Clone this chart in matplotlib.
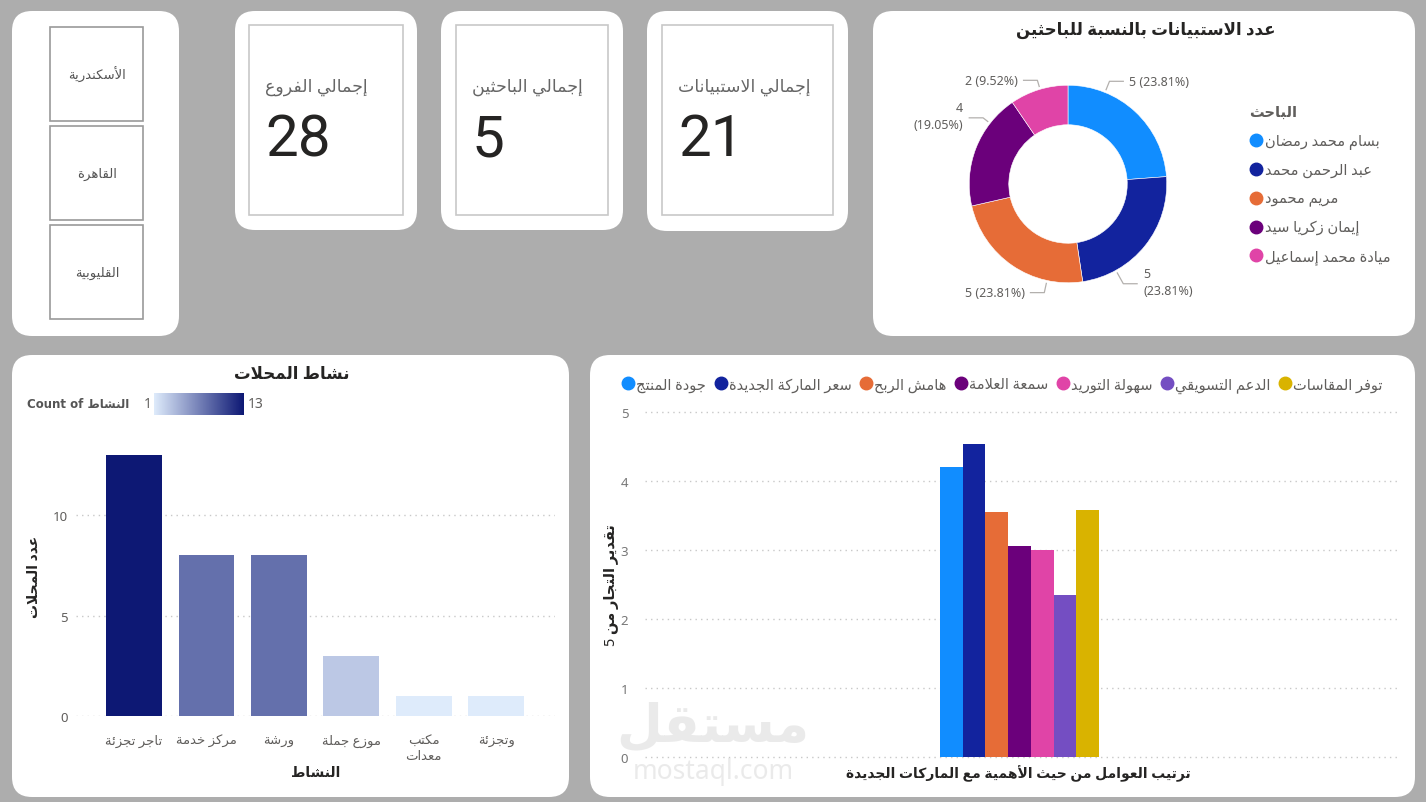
import matplotlib
matplotlib.use('Agg')
import matplotlib.pyplot as plt
from matplotlib.patches import FancyBboxPatch, Rectangle
from matplotlib.lines import Line2D
from matplotlib.colors import LinearSegmentedColormap, Normalize
import numpy as np

plt.rcParams['font.family'] = ['Noto Sans', 'DejaVu Sans']

# ---- data ----
regions = ['الأسكندرية', 'القاهرة', 'القليوبية']
card_titles = ['إجمالي الفروع', 'إجمالي الباحثين', 'إجمالي الاستبيانات']
card_values = [28, 5, 21]

researchers = ['بسام محمد رمضان', 'عبد الرحمن محمد', 'مريم محمود', 'إيمان زكريا سيد', 'ميادة محمد إسماعيل']
surveys = [5, 5, 5, 4, 2]
researcher_colors = ['#118DFF', '#12239E', '#E66C37', '#6B007B', '#E044A7']

activities = ['تاجر تجزئة', 'مركز خدمة', 'ورشة', 'موزع جملة', 'مكتب\nمعدات', 'وتجزئة']
shop_counts = [13, 8, 8, 3, 1, 1]

factors = ['جودة المنتج', 'سعر الماركة الجديدة', 'هامش الربح', 'سمعة العلامة',
           'سهولة التوريد', 'الدعم التسويقي', 'توفر المقاسات']
scores = [4.20, 4.54, 3.55, 3.06, 3.00, 2.35, 3.58]
factor_colors = ['#118DFF', '#12239E', '#E66C37', '#6B007B', '#E044A7', '#744EC2', '#D9B300']

# ---- simple arabic shaping (presentation forms) + rtl reversal ----
AR_FORMS = {
    '\u0621': (0xFE80, 1), '\u0622': (0xFE81, 2), '\u0623': (0xFE83, 2), '\u0624': (0xFE85, 2),
    '\u0625': (0xFE87, 2), '\u0626': (0xFE89, 4), '\u0627': (0xFE8D, 2), '\u0628': (0xFE8F, 4),
    '\u0629': (0xFE93, 2), '\u062A': (0xFE95, 4), '\u062B': (0xFE99, 4), '\u062C': (0xFE9D, 4),
    '\u062D': (0xFEA1, 4), '\u062E': (0xFEA5, 4), '\u062F': (0xFEA9, 2), '\u0630': (0xFEAB, 2),
    '\u0631': (0xFEAD, 2), '\u0632': (0xFEAF, 2), '\u0633': (0xFEB1, 4), '\u0634': (0xFEB5, 4),
    '\u0635': (0xFEB9, 4), '\u0636': (0xFEBD, 4), '\u0637': (0xFEC1, 4), '\u0638': (0xFEC5, 4),
    '\u0639': (0xFEC9, 4), '\u063A': (0xFECD, 4), '\u0641': (0xFED1, 4), '\u0642': (0xFED5, 4),
    '\u0643': (0xFED9, 4), '\u0644': (0xFEDD, 4), '\u0645': (0xFEE1, 4), '\u0646': (0xFEE5, 4),
    '\u0647': (0xFEE9, 4), '\u0648': (0xFEED, 2), '\u0649': (0xFEEF, 2), '\u064A': (0xFEF1, 4),
}
LAM_ALEF = {'\u0622': 0xFEF5, '\u0623': 0xFEF7, '\u0625': 0xFEF9, '\u0627': 0xFEFB}


def shape(text):
    out = []
    prev_joins = False
    i = 0
    while i < len(text):
        c = text[i]
        if c not in AR_FORMS:
            out.append(c)
            prev_joins = False
            i += 1
            continue
        if c == '\u0644' and i + 1 < len(text) and text[i + 1] in LAM_ALEF:
            out.append(chr(LAM_ALEF[text[i + 1]] + (1 if prev_joins else 0)))
            prev_joins = False
            i += 2
            continue
        base, nforms = AR_FORMS[c]
        nxt = text[i + 1] if i + 1 < len(text) else ''
        next_ok = nforms == 4 and nxt in AR_FORMS and AR_FORMS[nxt][1] > 1
        if nforms == 1:
            form = 0
        elif nforms == 2:
            form = 1 if prev_joins else 0
        else:
            if prev_joins and next_ok:
                form = 3
            elif prev_joins:
                form = 1
            elif next_ok:
                form = 2
            else:
                form = 0
        out.append(chr(base + form))
        prev_joins = nforms == 4
        i += 1
    return ''.join(out)


def ar(text):
    return '\n'.join(shape(line)[::-1] for line in text.split('\n'))


W, H = 1426, 803


def rect(x0, y0, x1, y1):
    return [x0 / W, 1 - y1 / H, (x1 - x0) / W, (y1 - y0) / H]


fig = plt.figure(figsize=(W / 100, H / 100), dpi=100)
fig.patch.set_facecolor('#ADADAD')

bg = fig.add_axes([0, 0, 1, 1])
bg.set_xlim(0, W)
bg.set_ylim(0, H)
bg.axis('off')
bg.set_zorder(-5)


def panel(x0, y0, x1, y1, r=20):
    bg.add_patch(FancyBboxPatch((x0, H - y1), x1 - x0, y1 - y0,
                                boxstyle=f'round,pad=0,rounding_size={r}',
                                facecolor='white', edgecolor='none'))


def box(x0, y0, x1, y1, ec):
    bg.add_patch(Rectangle((x0, H - y1), x1 - x0, y1 - y0, facecolor='white',
                           edgecolor=ec, linewidth=1.2))


# panels
panel(12, 12, 179, 337)
panel(235, 12, 417, 231)
panel(441, 12, 623, 231)
panel(647, 12, 848, 232)
panel(873, 12, 1415, 337)
panel(12, 356, 569, 798)
panel(590, 356, 1415, 798)

# slicer
for i, reg in enumerate(regions):
    y0 = 28 + i * 99
    box(50, y0, 143, y0 + 94, '#9A9A9A')
    bg.text(97, H - (y0 + 47), ar(reg), ha='center', va='center', fontsize=9.5, color='#555555')

# cards
card_boxes = [(249, 403), (456, 608), (662, 833)]
for (x0, x1), t, v in zip(card_boxes, card_titles, card_values):
    box(x0, 26, x1, 216, '#C8C8C8')
    bg.text(x0 + 16, H - 87, ar(t), ha='left', va='center', fontsize=12.5, color='#666666')
    bg.text(x0 + 16, H - 141, str(v), ha='left', va='center', fontsize=42,
            color='#252423', family=['Roboto'])

# ---- donut ----
dax = fig.add_axes(rect(910, 27, 1226, 343))
wedges, _ = dax.pie(surveys, colors=researcher_colors, startangle=90, counterclock=False,
                    radius=1.0, wedgeprops=dict(width=0.4, edgecolor='white', linewidth=0.4))
dax.set_xlim(-1.6, 1.6)
dax.set_ylim(-1.6, 1.6)
dax.set_aspect('equal')
dax.axis('off')
total = sum(surveys)
label_pos = [(0.62, 1.04, 'left', False), (0.76, -0.99, 'left', True), (-0.44, -1.10, 'right', False),
             (-1.06, 0.69, 'right', True), (-0.51, 1.05, 'right', False)]
for w, v, (tx, ty, ha, two_lines) in zip(wedges, surveys, label_pos):
    pct = v / total * 100
    txt = f'{v}\n({pct:.2f}%)' if two_lines else f'{v} ({pct:.2f}%)'
    dax.text(tx, ty, txt, ha=ha, va='center', fontsize=9, color='#605E5C', linespacing=1.45)
    sgn = 1 if ha == 'left' else -1
    hx1 = tx - sgn * 0.06
    hx0 = hx1 - sgn * 0.14
    ly = ty - 0.02 if two_lines else ty
    ang = np.degrees(np.arctan2(ly, hx0))
    lo, hi = w.theta1, w.theta2
    a = lo + ((ang - lo) % 360)
    if a > hi:
        a = hi - 5 if (a - hi) < (lo + 360 - a) else lo + 5
    ex, ey = 1.03 * np.cos(np.radians(a)), 1.03 * np.sin(np.radians(a))
    dax.plot([ex, hx0, hx1], [ey, ly, ly], color='#B3B0AD', lw=0.9)

fig.text(1146 / W, 1 - 30 / H, ar('عدد الاستبيانات بالنسبة للباحثين'), ha='center', va='center',
         fontsize=12, fontweight='bold', color='#252423')

handles = [Line2D([], [], marker='o', ls='', color=c, markersize=9) for c in researcher_colors]
leg = fig.legend(handles, [ar(r) for r in researchers], loc='upper left',
                 bbox_to_anchor=(1236 / W, 1 - 93 / H), frameon=False, title=ar('الباحث'),
                 title_fontproperties={'weight': 'bold', 'size': 10.5}, alignment='left',
                 fontsize=10.5, labelspacing=0.95, handletextpad=0.1, handlelength=1.0,
                 labelcolor='#605E5C')
leg.get_title().set_color('#605E5C')

# ---- shop activity bars ----
cmap = LinearSegmentedColormap.from_list('blues', ['#DEEBFB', '#0D1874'])
norm = Normalize(vmin=min(shop_counts), vmax=max(shop_counts))
bax = fig.add_axes(rect(76, 436, 555, 717))
bax.set_facecolor('none')
xpos = np.arange(len(activities))
bax.bar(xpos, shop_counts, width=0.77, color=cmap(norm(np.array(shop_counts))), zorder=3)
bax.set_xlim(-0.8, 5.81)
bax.set_ylim(0, 14)
bax.set_xticks(xpos, [ar(a) for a in activities])
bax.set_yticks([0, 5, 10])
bax.tick_params(axis='x', length=0, pad=13, labelsize=9.5, labelcolor='#605E5C')
bax.tick_params(axis='y', length=0, pad=6, labelsize=9.5, labelcolor='#605E5C')
bax.yaxis.grid(True, linestyle=(0, (1, 3)), color='#C8C8C8', lw=1)
bax.set_axisbelow(True)
for s in bax.spines.values():
    s.set_visible(False)
bax.set_ylabel(ar('عدد المحلات'), fontsize=10, fontweight='bold', color='#252423')
bax.yaxis.set_label_coords(-0.071, 0.5)
bax.set_xlabel(ar('النشاط'), fontsize=10, fontweight='bold', color='#252423')
bax.xaxis.set_label_coords(0.5, -0.175)

fig.text(292 / W, 1 - 375 / H, ar('نشاط المحلات'), ha='center', va='center',
         fontsize=12, fontweight='bold', color='#252423')
fig.text(27 / W, 1 - 405 / H, 'Count of ' + ar('النشاط'), ha='left', va='center',
         fontsize=8.5, fontweight='bold', color='#555555', family=['DejaVu Sans'])
fig.text(144 / W, 1 - 405 / H, '1', ha='left', va='center', fontsize=10, color='#605E5C')
fig.text(248 / W, 1 - 405 / H, '13', ha='left', va='center', fontsize=10, color='#605E5C')
gax = fig.add_axes(rect(154, 394, 244, 416))
gax.imshow(np.linspace(0, 1, 200)[None, :], aspect='auto', cmap=cmap)
gax.axis('off')

# ---- factor columns ----
cax = fig.add_axes(rect(645, 413, 1400, 758))
cax.set_facecolor('none')
fpos = np.arange(len(factors)) - 3
cax.bar(fpos, scores, width=1.0, color=factor_colors, zorder=3)
cax.set_xlim(-16.5, 16.76)
cax.set_ylim(0, 5)
cax.set_xticks([])
cax.set_yticks(range(6))
cax.tick_params(axis='y', length=0, pad=12, labelsize=9.5, labelcolor='#777777')
cax.yaxis.grid(True, linestyle=(0, (1, 3)), color='#C8C8C8', lw=1, clip_on=False)
cax.set_axisbelow(True)
for s in cax.spines.values():
    s.set_visible(False)
cax.set_ylabel('5 ' + ar('تقدير التجار من'), fontsize=10.5, fontweight='bold', color='#252423')
cax.yaxis.set_label_coords(-0.034, 0.5)
cax.set_xlabel(ar('ترتيب العوامل من حيث الأهمية مع الماركات الجديدة'), fontsize=10,
               fontweight='bold', color='#252423')
cax.xaxis.set_label_coords(0.495, -0.023)

fh = [Line2D([], [], marker='o', ls='', color=c, markersize=9) for c in factor_colors]
fig.legend(fh, [ar(f) for f in factors], loc='center left', bbox_to_anchor=(608 / W, 1 - 386 / H),
           ncol=len(factors), frameon=False, fontsize=10.5, handletextpad=0.05,
           handlelength=1.0, columnspacing=0.5, labelcolor='#605E5C')

# watermark
fig.text(713 / W, 1 - 728 / H, ar('مستقل'), ha='center', va='center', fontsize=38,
         fontweight='bold', color='#DADADA', alpha=0.55)
fig.text(713 / W, 1 - 772 / H, 'mostaql.com', ha='center', va='center', fontsize=19,
         color='#DADADA', alpha=0.55)

fig.savefig('out.png', dpi=100, facecolor=fig.get_facecolor())
